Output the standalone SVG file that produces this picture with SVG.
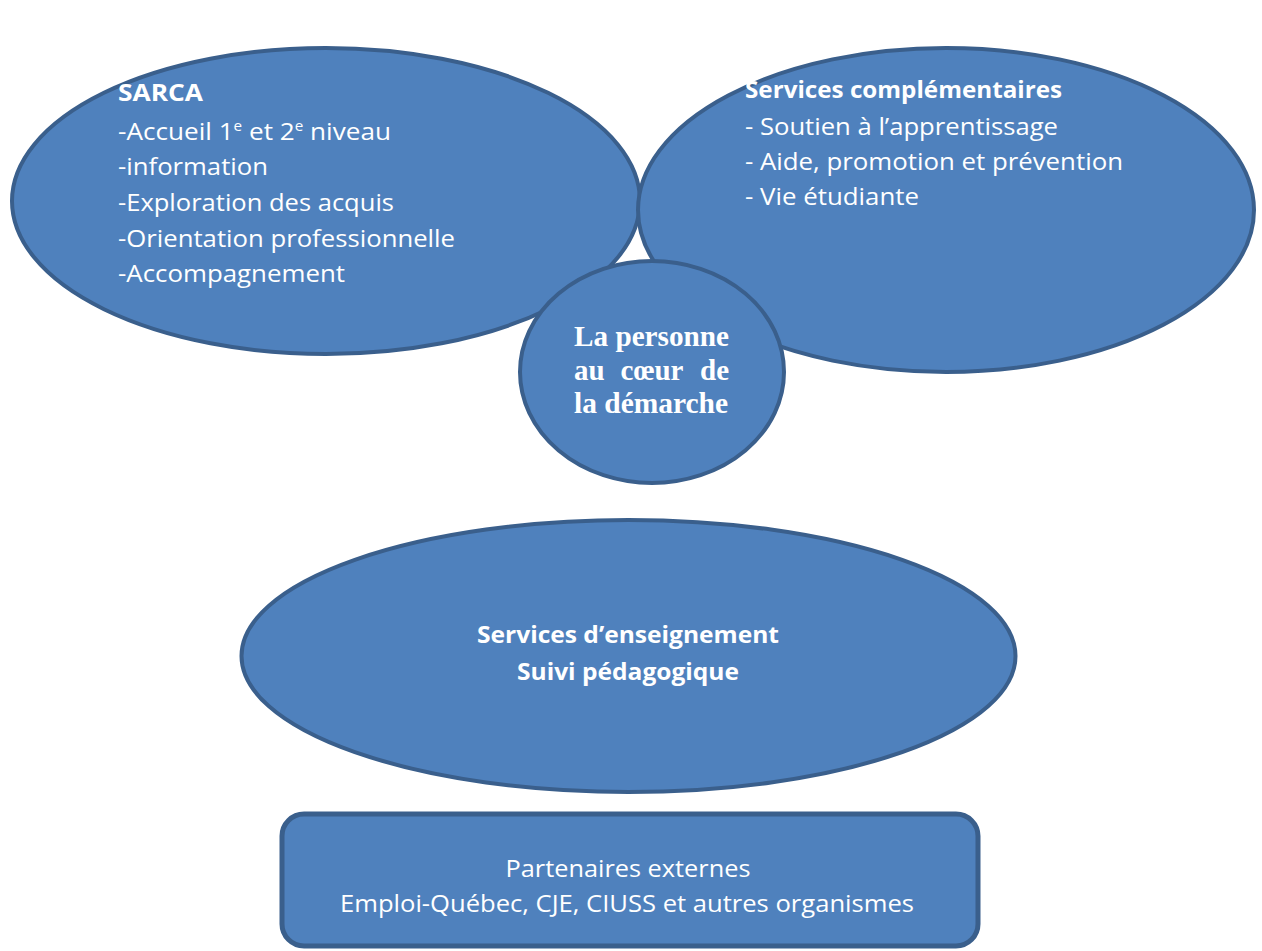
<svg xmlns="http://www.w3.org/2000/svg" width="1262" height="951" viewBox="0 0 1262 951">
<style>
.shape{fill:#4F81BD;stroke:#3A5F8C;stroke-width:4}
.t{font-family:"Open Sans","Noto Sans","Liberation Sans",sans-serif;font-size:24px;fill:#fff}
.b{font-weight:bold}
.s{font-family:"Liberation Serif","Times New Roman",serif;font-size:29px;font-weight:bold;fill:#fff}
.sup{font-size:14px}
</style>
<rect width="1262" height="951" fill="#fff"/>
<g id="connectors"></g>
<g id="sarca">
<ellipse class="shape" cx="326" cy="201" rx="314" ry="153"/>
<text class="t b" x="118" y="101" textLength="85" lengthAdjust="spacingAndGlyphs">SARCA</text>
<text class="t" x="118" y="140" textLength="273" lengthAdjust="spacingAndGlyphs">-Accueil 1<tspan class="sup" dy="-9">e</tspan><tspan dy="9"> et 2</tspan><tspan class="sup" dy="-9">e</tspan><tspan dy="9"> niveau</tspan></text>
<text class="t" x="118" y="175" textLength="150" lengthAdjust="spacingAndGlyphs">-information</text>
<text class="t" x="118" y="211" textLength="276" lengthAdjust="spacingAndGlyphs">-Exploration des acquis</text>
<text class="t" x="118" y="247" textLength="337" lengthAdjust="spacingAndGlyphs">-Orientation professionnelle</text>
<text class="t" x="118" y="282" textLength="227" lengthAdjust="spacingAndGlyphs">-Accompagnement</text>
</g>
<g id="complementaires">
<ellipse class="shape" cx="946" cy="210" rx="308" ry="162"/>
<text class="t b" x="745" y="98" textLength="317" lengthAdjust="spacingAndGlyphs">Services complémentaires</text>
<text class="t" x="745" y="135" textLength="313" lengthAdjust="spacingAndGlyphs">- Soutien à l’apprentissage</text>
<text class="t" x="745" y="170" textLength="378" lengthAdjust="spacingAndGlyphs">- Aide, promotion et prévention</text>
<text class="t" x="745" y="205" textLength="174" lengthAdjust="spacingAndGlyphs">- Vie étudiante</text>
</g>
<g id="personne">
<ellipse class="shape" cx="652" cy="372" rx="132" ry="111"/>
<text class="s" x="574" y="346" textLength="155" lengthAdjust="spacingAndGlyphs">La personne</text>
<text class="s" x="574" y="380">au</text>
<text class="s" x="652" y="380" text-anchor="middle">cœur</text>
<text class="s" x="729" y="380" text-anchor="end">de</text>
<text class="s" x="574" y="413" textLength="154" lengthAdjust="spacingAndGlyphs">la démarche</text>
</g>
<g id="enseignement">
<ellipse class="shape" cx="628.5" cy="656" rx="387" ry="136"/>
<text class="t b" x="628" y="643" text-anchor="middle" textLength="302" lengthAdjust="spacingAndGlyphs">Services d’enseignement</text>
<text class="t b" x="628" y="680" text-anchor="middle" textLength="222" lengthAdjust="spacingAndGlyphs">Suivi pédagogique</text>
</g>
<g id="partenaires">
<rect class="shape" x="282" y="814" width="696" height="132" rx="22" style="stroke-width:5"/>
<text class="t" x="628" y="877" text-anchor="middle" textLength="245" lengthAdjust="spacingAndGlyphs">Partenaires externes</text>
<text class="t" x="627" y="912" text-anchor="middle" textLength="574" lengthAdjust="spacingAndGlyphs">Emploi-Québec, CJE, CIUSS et autres organismes</text>
</g>
</svg>
